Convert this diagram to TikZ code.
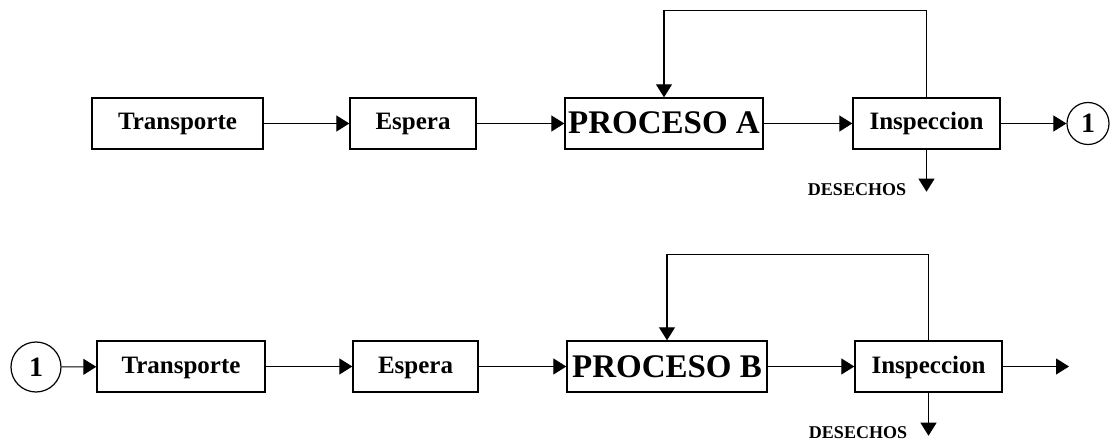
\documentclass[tikz,border=0pt]{standalone}
\usepackage{fontspec}
\setmainfont{Liberation Serif}
\usetikzlibrary{arrows.meta}

\begin{document}
\begin{tikzpicture}[x=0.5pt, y=-0.5pt,
  arr/.style={-{Triangle[length=6.5pt,width=8pt]}, line width=0.55pt},
  blk/.style={draw, line width=0.7pt, minimum height=25.5pt, inner sep=0pt,
    text height=8.5pt, text depth=2pt,
    font=\fontsize{12.5}{14}\selectfont\bfseries},
  proc/.style={blk, text height=11pt, text depth=0.5pt,
    font=\fontsize{16.5}{18}\selectfont\bfseries},
  conn/.style={draw, circle, line width=0.6pt, inner sep=0pt,
    font=\fontsize{14}{16}\selectfont\bfseries},
  waste/.style={font=\fontsize{9}{10}\selectfont\bfseries}]
  \useasboundingbox (0,0) rectangle (1119,443);

  % Linea A
  \node[blk, minimum width=85.5pt] (trA) at (177.5,123.5) {Transporte};
  \node[blk, minimum width=63pt] (espA) at (413,123.5) {Espera};
  \node[proc, minimum width=99pt] (procA) at (664,123.5) {PROCESO A};
  \node[blk, minimum width=73.5pt] (insA) at (926.5,123.5) {Inspeccion};
  \node[conn, minimum size=21pt] (oneA) at (1088,123.5) {1};
  \node[waste] (desA) at (857,190) {DESECHOS};

  \draw[arr] (trA) -- (espA);
  \draw[arr] (espA) -- (procA);
  \draw[arr] (procA) -- (insA);
  \draw[arr] (insA) -- (oneA);
  \draw[arr] (insA.north) -- ++(0,-87) -| (procA.north);
  \draw[arr] (insA.south) -- ++(0,42);

  % Linea B
  \node[conn, minimum size=25pt] (oneB) at (36,367) {1};
  \node[blk, minimum width=84pt] (trB) at (181,366.5) {Transporte};
  \node[blk, minimum width=62.5pt] (espB) at (415.5,366.5) {Espera};
  \node[proc, minimum width=100pt] (procB) at (667,366.5) {PROCESO B};
  \node[blk, minimum width=73.5pt] (insB) at (928.5,366.5) {Inspeccion};
  \node[waste] (desB) at (858,433) {DESECHOS};
  \coordinate (finB) at (1069,366.5);

  \draw[arr] (oneB) -- (trB);
  \draw[arr] (trB) -- (espB);
  \draw[arr] (espB) -- (procB);
  \draw[arr] (procB) -- (insB);
  \draw[arr] (insB) -- (finB);
  \draw[arr] (insB.north) -- ++(0,-86) -| (procB.north);
  \draw[arr] (insB.south) -- ++(0,43);
\end{tikzpicture}
\end{document}
